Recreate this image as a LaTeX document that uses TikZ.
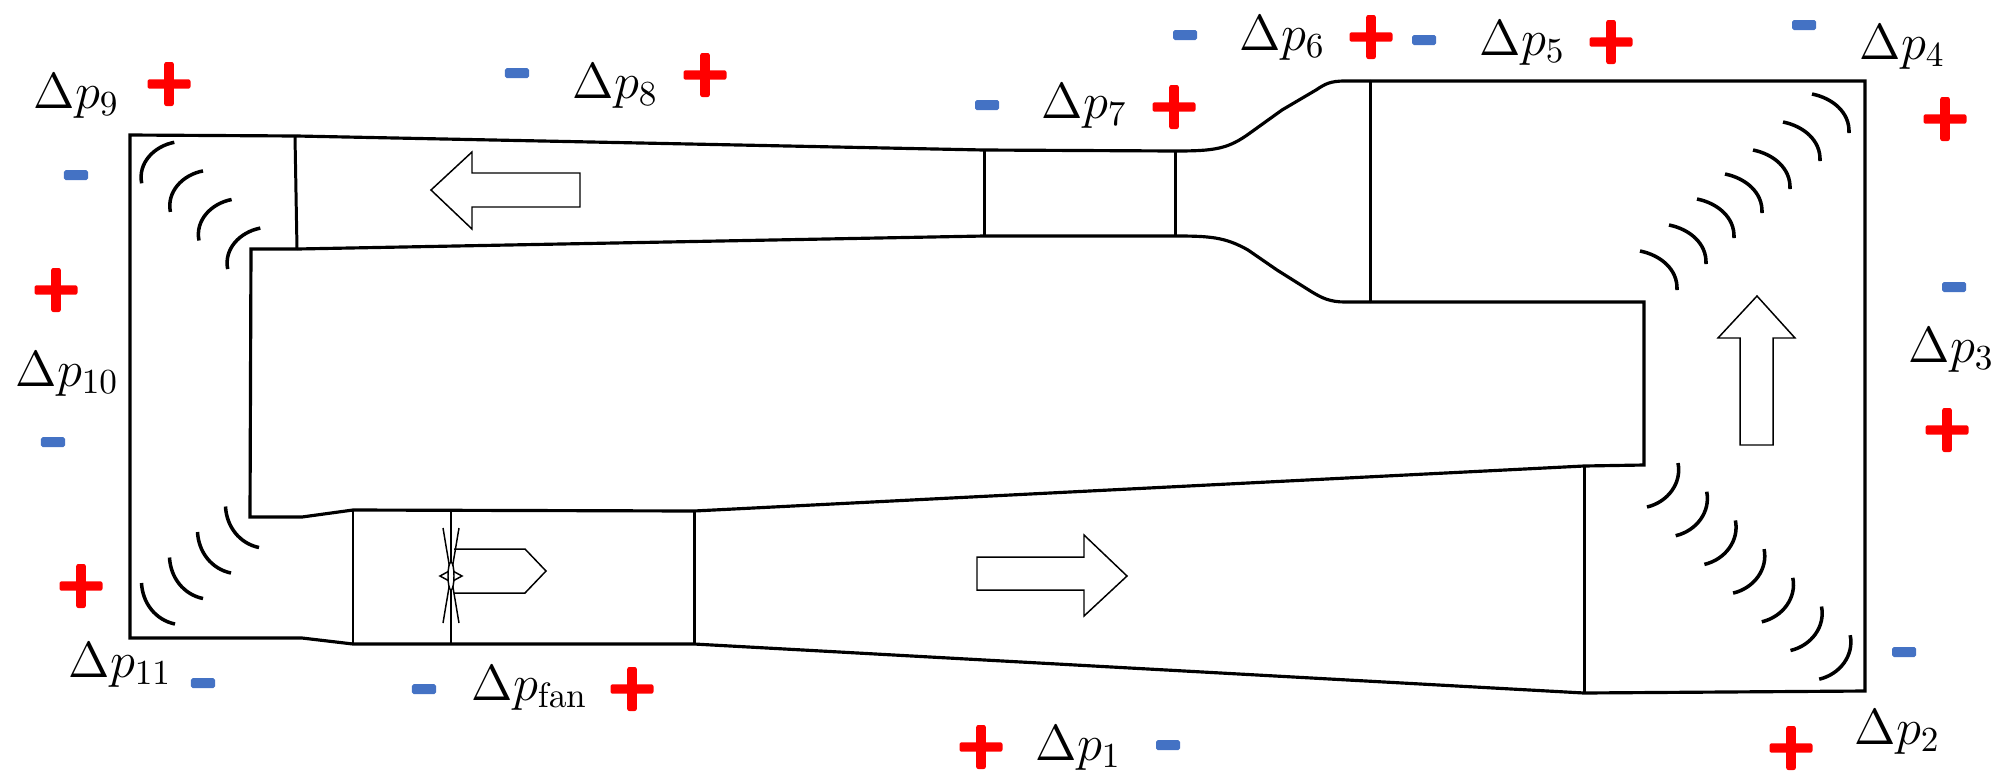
\documentclass[tikz,border=0pt]{standalone}
\usepackage{amsmath}
\usetikzlibrary{positioning}
\definecolor{minusblue}{RGB}{68, 114, 196}
\definecolor{plusred}{RGB}{255, 0, 0}

\begin{document}
\begin{tikzpicture}[
  x=0.01cm, y=-0.01cm,
  duct/.style={draw=black, line width=0.9pt, line join=miter},
  section/.style={draw=black, line width=0.85pt},
  flowarrow/.style={draw=black, line width=0.42pt, fill=white},
  vane/.style={draw=black, line width=1pt},
  dplabel/.style={anchor=base west, inner sep=0pt, font=\fontsize{14.5}{17}\selectfont},
  minussign/.style={fill=minusblue, rounded corners=0.5pt, minimum width=0.24cm, minimum height=0.1cm, inner sep=0pt},
  plusbar/.style={fill=plusred, rounded corners=0.6pt},
  pluspic/.pic={\fill[plusbar] (-21.5,-4.7) rectangle (21.5,4.7); \fill[plusbar] (-4.8,-22) rectangle (4.8,22);},
  vanetl/.pic={\draw[vane] (0,0) .. controls (-4,-20) and (12,-37) .. (32.6,-41);},
  vanebl/.pic={\draw[vane] (0,0) .. controls (1,20) and (14,37) .. (33.5,41);},
  vanetr/.pic={\draw[vane] (0,0) .. controls (20,4) and (38,18) .. (37,39);},
  vanebr/.pic={\draw[vane] (0,0) .. controls (4,20) and (-10,39) .. (-31,44);}
]
  \useasboundingbox (0,0) rectangle (1993,772);

  % outer wall
  \draw[duct] (297,136) -- (130,135) -- (130,638) -- (302,638) -- (353,644) -- (694,644) -- (1584,693) -- (1865,691) -- (1865,81) -- (1370,81);
  \draw[duct] (1370,81) -- (1345,81) .. controls (1330,81) and (1325,84) .. (1316,90) -- (1282,110) -- (1250,133) .. controls (1228,149) and (1215,151) .. (1175,151) -- (984,150) -- (297,136);

  % inner wall
  \draw[duct] (297,249) -- (251,249) -- (250,517) -- (302,517) -- (353,510) -- (694,511) -- (1584,466) -- (1644,465) -- (1644,302) -- (1370,302);
  \draw[duct] (1370,302) -- (1345,302) .. controls (1330,302) and (1322,298) .. (1312,292) -- (1277,270) -- (1248,250) .. controls (1225,237) and (1210,236) .. (1175,236) -- (984,236) -- (297,249);

  % section lines
  \draw[section] (295,136) -- (297,249);
  \draw[section] (984,150) -- (984,236);
  \draw[section] (1175,151) -- (1175,236);
  \draw[section] (1370,81) -- (1370,302);
  \draw[section] (1584,466) -- (1584,693);
  \draw[section] (353,510) -- (353,644);
  \draw[section] (694,511) -- (694,644);

  % flow arrows
  \draw[flowarrow] (431,190) -- (472,152) -- (472,173) -- (580,173) -- (580,207) -- (472,207) -- (472,229) -- cycle;
  \draw[flowarrow] (977,557) -- (1084,557) -- (1084,535) -- (1127,576) -- (1084,616) -- (1084,590) -- (977,590) -- cycle;
  \draw[flowarrow] (1757,296) -- (1795,338) -- (1773,338) -- (1773,445) -- (1740,445) -- (1740,338) -- (1718,338) -- cycle;

  % fan
  \draw[flowarrow] (454,549) -- (525,549) -- (546,571) -- (525,593) -- (454,593);
  \draw[section, line width=0.42pt] (451,510) -- (451,644);
  \draw[flowarrow] (443,528) -- (459,623);
  \draw[flowarrow] (459,528) -- (443,623);
  \draw[flowarrow] (440,576) -- (451,570) -- (462,576) -- (451,582) -- cycle;
  \draw[flowarrow] (451,576) ellipse (3 and 14);

  % turning vanes
  \pic at (141.7,183.3) {vanetl};
  \pic at (170.4,211.9) {vanetl};
  \pic at (199.0,240.5) {vanetl};
  \pic at (227.7,269.1) {vanetl};
  \pic at (141.5,583.0) {vanebl};
  \pic at (169.5,557.5) {vanebl};
  \pic at (197.5,532.0) {vanebl};
  \pic at (225.5,506.5) {vanebl};
  \pic at (1812,94) {vanetr};
  \pic at (1783,122) {vanetr};
  \pic at (1753,150) {vanetr};
  \pic at (1725,174) {vanetr};
  \pic at (1697,199) {vanetr};
  \pic at (1669,225) {vanetr};
  \pic at (1640,251) {vanetr};
  \pic at (1678.0,463.0) {vanebr};
  \pic at (1706.7,491.7) {vanebr};
  \pic at (1735.4,520.4) {vanebr};
  \pic at (1764.1,549.1) {vanebr};
  \pic at (1792.8,577.8) {vanebr};
  \pic at (1821.5,606.5) {vanebr};
  \pic at (1850.2,635.2) {vanebr};

  % pressure drops
  \node[dplabel] (dpOne) at (1035,760) {$\Delta p_{1}$};
  \node[dplabel] (dpTwo) at (1854,744) {$\Delta p_{2}$};
  \node[dplabel] (dpThree) at (1908,362) {$\Delta p_{3}$};
  \node[dplabel] (dpFour) at (1859,59) {$\Delta p_{4}$};
  \node[dplabel] (dpFive) at (1479,55) {$\Delta p_{5}$};
  \node[dplabel] (dpSix) at (1239,50) {$\Delta p_{6}$};
  \node[dplabel] (dpSeven) at (1041,118) {$\Delta p_{7}$};
  \node[dplabel] (dpEight) at (572,98) {$\Delta p_{8}$};
  \node[dplabel] (dpNine) at (33,108) {$\Delta p_{9}$};
  \node[dplabel] (dpTen) at (15,386) {$\Delta p_{10}$};
  \node[dplabel] (dpEleven) at (68,677) {$\Delta p_{11}$};
  \node[dplabel] (dpFan) at (471,700) {$\Delta p_{\mathrm{fan}}$};

  % plus signs
  \pic at (981,747) {pluspic};
  \pic at (1791,748) {pluspic};
  \pic at (1947,430) {pluspic};
  \pic at (1945,119) {pluspic};
  \pic at (1611,42) {pluspic};
  \pic at (1371,37) {pluspic};
  \pic at (1174,107) {pluspic};
  \pic at (705,75) {pluspic};
  \pic at (169,84) {pluspic};
  \pic at (56,290) {pluspic};
  \pic at (81,586) {pluspic};
  \pic at (632,689) {pluspic};

  % minus signs
  \node[minussign] (mOne) at (1168,745) {};
  \node[minussign] (mTwo) at (1904,652) {};
  \node[minussign] (mThree) at (1954,287) {};
  \node[minussign] (mFour) at (1804,25) {};
  \node[minussign] (mFive) at (1424,40) {};
  \node[minussign] (mSix) at (1185,35) {};
  \node[minussign] (mSeven) at (987,105) {};
  \node[minussign] (mEight) at (517,73) {};
  \node[minussign] (mNine) at (76,175) {};
  \node[minussign] (mTen) at (53,442) {};
  \node[minussign] (mEleven) at (203,683) {};
  \node[minussign] (mFan) at (424,689) {};
\end{tikzpicture}
\end{document}
